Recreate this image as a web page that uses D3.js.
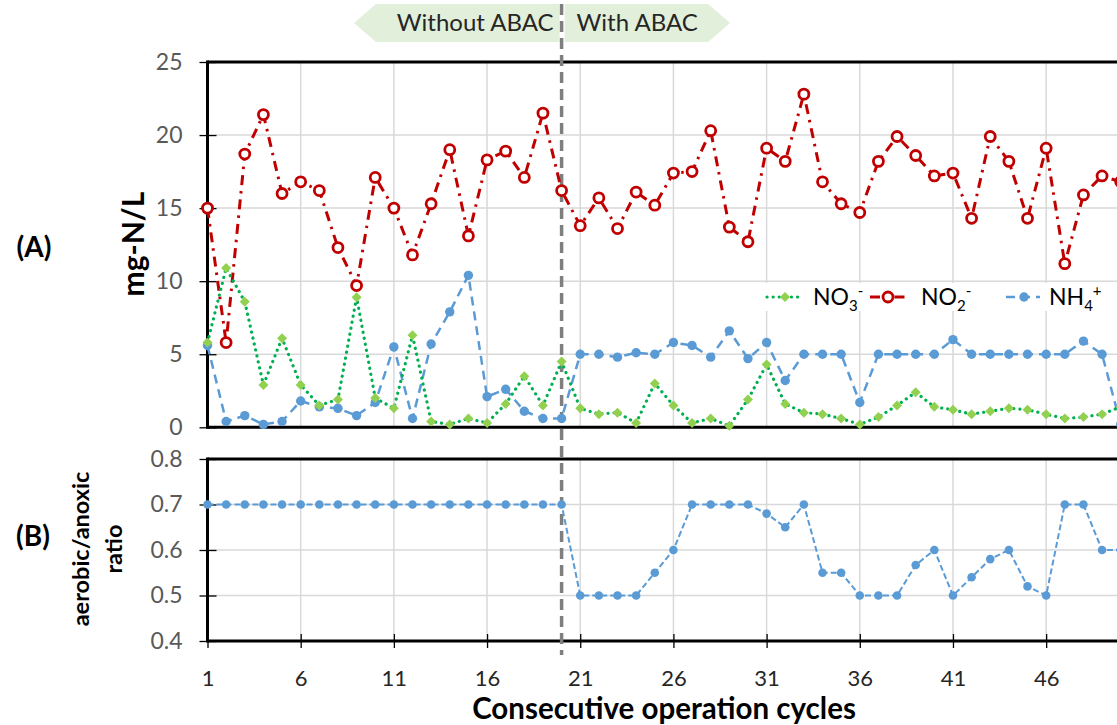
<!DOCTYPE html>
<html><head><meta charset="utf-8">
<script src="https://cdn.jsdelivr.net/npm/d3@7"></script>
<style>
body{margin:0;background:#fff;}
svg{display:block;font-family:Lato,"Open Sans",sans-serif;}
</style>
</head><body>
<svg id="chart" width="1117" height="725"></svg>
<script>
// ---------- data ----------
const cycles = [1,2,3,4,5,6,7,8,9,10,11,12,13,14,15,16,17,18,19,20,21,22,23,24,25,26,27,28,29,30,31,32,33,34,35,36,37,38,39,40,41,42,43,44,45,46,47,48,49,50];
const no3 = [5.8,10.9,8.6,2.9,6.1,2.9,1.5,1.9,8.9,2.0,1.3,6.3,0.4,0.2,0.6,0.3,1.6,3.5,1.5,4.5,
             1.3,0.9,1.0,0.3,3.0,1.5,0.3,0.6,0.1,1.9,4.3,1.6,1.0,0.9,0.6,0.2,0.7,1.5,2.4,1.4,
             1.2,0.9,1.1,1.3,1.2,0.9,0.6,0.7,0.9,1.4];
const no2 = [15.0,5.8,18.7,21.4,16.0,16.8,16.2,12.3,9.7,17.1,15.0,11.8,15.3,19.0,13.1,18.3,18.9,17.1,21.5,16.2,
             13.8,15.7,13.6,16.1,15.2,17.4,17.5,20.3,13.7,12.7,19.1,18.2,22.8,16.8,15.3,14.7,18.2,19.9,18.6,17.2,
             17.4,14.3,19.9,18.2,14.3,19.1,11.2,15.9,17.2,16.8];
const nh4 = [5.6,0.4,0.8,0.2,0.4,1.8,1.4,1.3,0.8,1.7,5.5,0.6,5.7,7.9,10.4,2.1,2.6,1.1,0.6,0.6,
             5.0,5.0,4.8,5.1,5.0,5.8,5.6,4.8,6.6,4.7,5.8,3.2,5.0,5.0,5.0,1.7,5.0,5.0,5.0,5.0,
             6.0,5.0,5.0,5.0,5.0,5.0,5.0,5.9,5.0,0.2];
const ratio = [0.7,0.7,0.7,0.7,0.7,0.7,0.7,0.7,0.7,0.7,0.7,0.7,0.7,0.7,0.7,0.7,0.7,0.7,0.7,0.7,
               0.5,0.5,0.5,0.5,0.55,0.6,0.7,0.7,0.7,0.7,0.68,0.65,0.7,0.55,0.55,0.5,0.5,0.5,0.567,0.6,
               0.5,0.54,0.58,0.6,0.52,0.5,0.7,0.7,0.6,0.6];
const xTicks = [1,6,11,16,21,26,31,36,41,46];
const yTicksTop = [0,5,10,15,20,25];
const yTicksBot = [0.4,0.5,0.6,0.7,0.8];
const switchCycle = 20;
const phaseLabels = ["Without ABAC","With ABAC"];

// ---------- layout ----------
const svg = d3.select("#chart");
const x = d3.scaleLinear().domain([1,50]).range([207.5,1120.7]);
const yT = d3.scaleLinear().domain([0,25]).range([427.3,62]);
const yB = d3.scaleLinear().domain([0.4,0.8]).range([641,459]);
const xR = 1121;
const gridC = "#d9d9d9";

// banner
const bY0=4, bY1=42, bYc=23, sx = x(switchCycle);
svg.append("polygon").attr("points",[[354,bYc],[376,bY0],[sx-2,bY0],[sx-2,bY1],[376,bY1]].join(" ")).attr("fill","#e2efda");
svg.append("polygon").attr("points",[[sx+3,bY0],[708,bY0],[730,bYc],[708,bY1],[sx+3,bY1]].join(" ")).attr("fill","#e2efda");
svg.append("text").attr("x",sx-8).attr("y",bYc).attr("dy","0.35em").attr("text-anchor","end")
  .attr("font-size",24).attr("fill","#262626").text(phaseLabels[0]);
svg.append("text").attr("x",sx+15).attr("y",bYc).attr("dy","0.35em").attr("text-anchor","start")
  .attr("font-size",24).attr("fill","#262626").text(phaseLabels[1]);

// gridlines
function grid(yScale, yTicks, top, bottom){
  const g = svg.append("g");
  g.selectAll(".h").data(yTicks.slice(1,-1)).join("line")
    .attr("x1",x(1)).attr("x2",xR).attr("y1",d=>yScale(d)).attr("y2",d=>yScale(d))
    .attr("stroke",gridC).attr("stroke-width",1.5);
  g.selectAll(".v").data(xTicks.slice(1)).join("line")
    .attr("x1",d=>x(d)).attr("x2",d=>x(d)).attr("y1",top).attr("y2",bottom)
    .attr("stroke",gridC).attr("stroke-width",1.5);
}
grid(yT, yTicksTop, yT(25), yT(0));
grid(yB, yTicksBot, yB(0.8), yB(0.4));

// axes
function leftAxis(yScale, ticks, fmt){
  const g = svg.append("g").attr("transform",`translate(${x(1)},0)`)
    .call(d3.axisLeft(yScale).tickValues(ticks).tickFormat(fmt).tickSize(8).tickPadding(18));
  g.select(".domain").remove();
  g.selectAll(".tick line").attr("x1",9).attr("x2",-8).attr("stroke","#000").attr("stroke-width",1.3);
  g.selectAll(".tick text").attr("font-size",23).attr("fill","#595959").attr("font-family","Lato,'Open Sans',sans-serif").attr("x",-25);
}
leftAxis(yT, yTicksTop, d3.format("d"));
leftAxis(yB, yTicksBot, d3.format(".1f"));

const gx = svg.append("g").attr("transform",`translate(0,${yB(0.4)})`)
  .call(d3.axisBottom(x).tickValues(xTicks).tickFormat(d3.format("d")).tickSize(7).tickPadding(22));
gx.select(".domain").remove();
gx.selectAll(".tick line").attr("y1",-7).attr("y2",7).attr("stroke","#000").attr("stroke-width",1.3);
gx.selectAll(".tick text").attr("font-size",22).attr("fill","#262626").attr("font-family","Lato,'Open Sans',sans-serif");

// frames
function frame(top,bottom){
  const g = svg.append("g").attr("stroke","#000").attr("stroke-width",3);
  g.append("line").attr("x1",x(1)).attr("x2",xR).attr("y1",top).attr("y2",top);
  g.append("line").attr("x1",x(1)).attr("x2",xR).attr("y1",bottom).attr("y2",bottom);
  g.append("line").attr("x1",x(1)).attr("x2",x(1)).attr("y1",top-1.5).attr("y2",bottom+1.5);
}
frame(yT(25), yT(0));
frame(yB(0.8), yB(0.4));

// phase divider
svg.append("line").attr("x1",sx).attr("x2",sx).attr("y1",4).attr("y2",655)
  .attr("stroke","#7f7f7f").attr("stroke-width",3.5).attr("stroke-dasharray","11,6");

// legend background
svg.append("rect").attr("x",760).attr("y",283).attr("width",345).attr("height",28).attr("fill","#fff");

// series
const red="#c00000", green="#00b050", lgreen="#92d050", blue="#5b9bd5";
const lineT = (arr)=>d3.line().x((d,i)=>x(cycles[i])).y(d=>yT(d))(arr);

svg.append("path").attr("d",lineT(no2)).attr("fill","none").attr("stroke",red)
  .attr("stroke-width",3).attr("stroke-dasharray","10,6,2.5,6");
svg.append("path").attr("d",lineT(nh4)).attr("fill","none").attr("stroke",blue)
  .attr("stroke-width",2.5).attr("stroke-dasharray","9,6");
svg.append("path").attr("d",lineT(no3)).attr("fill","none").attr("stroke",green)
  .attr("stroke-width",3.2).attr("stroke-dasharray","0.1,6").attr("stroke-linecap","round");

const diamond = d3.symbol(d3.symbolSquare, 50)();
svg.append("g").selectAll("circle").data(nh4).join("circle")
  .attr("cx",(d,i)=>x(cycles[i])).attr("cy",d=>yT(d)).attr("r",4.7).attr("fill",blue);
svg.append("g").selectAll("path").data(no3).join("path")
  .attr("d",diamond).attr("transform",(d,i)=>`translate(${x(cycles[i])},${yT(d)}) rotate(45)`).attr("fill",lgreen);
svg.append("g").selectAll("circle").data(no2).join("circle")
  .attr("cx",(d,i)=>x(cycles[i])).attr("cy",d=>yT(d)).attr("r",5)
  .attr("fill","#fff").attr("stroke",red).attr("stroke-width",2.8);

// bottom series
svg.append("path").attr("d",d3.line().x((d,i)=>x(cycles[i])).y(d=>yB(d))(ratio))
  .attr("fill","none").attr("stroke",blue).attr("stroke-width",2).attr("stroke-dasharray","6,3");
svg.append("g").selectAll("circle").data(ratio).join("circle")
  .attr("cx",(d,i)=>x(cycles[i])).attr("cy",d=>yB(d)).attr("r",4.3).attr("fill",blue);

// legend
const ly = 297;
const lg = svg.append("g");
lg.append("line").attr("x1",767).attr("x2",801).attr("y1",ly).attr("y2",ly).attr("stroke",green)
  .attr("stroke-width",3.2).attr("stroke-dasharray","0.1,6").attr("stroke-linecap","round");
lg.append("path").attr("d",diamond).attr("transform",`translate(785,${ly}) rotate(45)`).attr("fill",lgreen);
lg.append("line").attr("x1",870).attr("x2",909).attr("y1",ly).attr("y2",ly).attr("stroke",red)
  .attr("stroke-width",3).attr("stroke-dasharray","10,6,2.5,6");
lg.append("circle").attr("cx",888).attr("cy",ly).attr("r",5).attr("fill","#fff").attr("stroke",red).attr("stroke-width",2.8);
lg.append("line").attr("x1",1006).attr("x2",1040).attr("y1",ly).attr("y2",ly).attr("stroke",blue)
  .attr("stroke-width",2.5).attr("stroke-dasharray","9,6");
lg.append("circle").attr("cx",1024).attr("cy",ly).attr("r",4.7).attr("fill",blue);

function chemLabel(xp, base, sub, sup){
  const t = lg.append("text").attr("x",xp).attr("y",ly).attr("dy","0.35em").attr("font-size",23).attr("fill","#000");
  t.append("tspan").text(base);
  t.append("tspan").attr("font-size",15).attr("dy",6).text(sub);
  t.append("tspan").attr("font-size",15).attr("dy",-15).text(sup);
}
chemLabel(813,"NO","3","-");
chemLabel(921,"NO","2","-");
chemLabel(1049,"NH","4","+");

// titles
svg.append("text").attr("transform","translate(144,244) rotate(-90)").attr("text-anchor","middle")
  .attr("font-size",30).attr("font-weight","bold").text("mg-N/L");
svg.append("text").attr("x",34).attr("y",247).attr("dy","0.35em").attr("text-anchor","middle")
  .attr("font-size",28).attr("font-weight","bold").text("(A)");
svg.append("text").attr("x",33).attr("y",536).attr("dy","0.35em").attr("text-anchor","middle")
  .attr("font-size",28).attr("font-weight","bold").text("(B)");
svg.append("text").attr("transform","translate(89,549) rotate(-90)").attr("text-anchor","middle")
  .attr("font-size",23.5).attr("font-weight","bold").text("aerobic/anoxic");
svg.append("text").attr("transform","translate(122,549) rotate(-90)").attr("text-anchor","middle")
  .attr("font-size",23.5).attr("font-weight","bold").text("ratio");
svg.append("text").attr("x",664).attr("y",709).attr("dy","0.35em").attr("text-anchor","middle")
  .attr("font-size",29.5).attr("font-weight","bold").text("Consecutive operation cycles");
</script>
</body></html>
